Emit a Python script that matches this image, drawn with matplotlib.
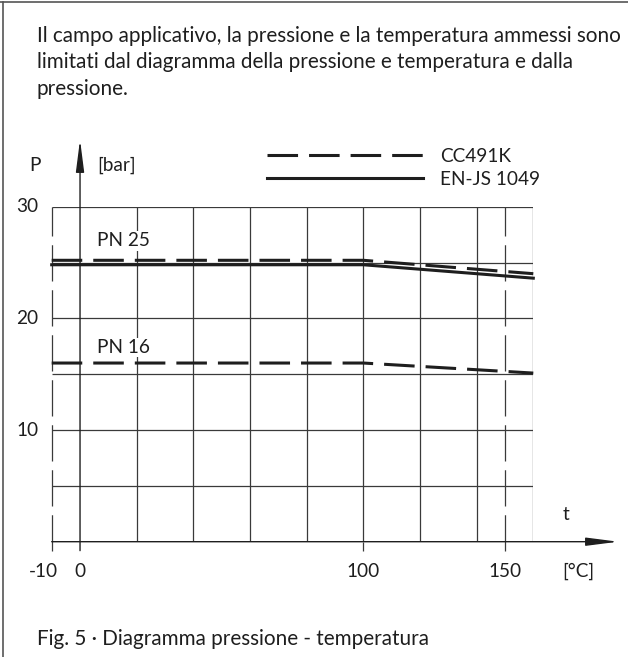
import numpy as np
import matplotlib.pyplot as plt
from matplotlib.lines import Line2D

plt.rcParams['font.family'] = ['Lato', 'DejaVu Sans']

temp = [-10, 100, 160]               # [°C]
pn25_cc491k = [25.2, 25.2, 24.0]     # bar
pn25_enjs1049 = [24.8, 24.8, 23.6]
pn16_cc491k = [16.0, 16.0, 15.1]

x_grid = [20, 40, 60, 80, 100, 120, 140, 160]
y_grid = [5, 10, 15, 20, 25, 30]
y_labels = [10, 20, 30]
x_labels = ['-10', '0', '100', '150']
x_label_vals = [-10, 0, 100, 150]

W, H = 628, 657
ink = '#1e1e1e'
gc = '#3a3a3a'
fs = 13.7       # etichette del diagramma
fs_txt = 14.9   # testo e didascalia


def fx(px):
    return px / W


def fy(py):
    return 1 - py / H


fig = plt.figure(figsize=(W / 100, H / 100), dpi=100)
fig.patch.set_facecolor('white')

# cornice
fig.add_artist(Line2D([0, 1], [fy(2), fy(2)], color='#555555', lw=1.2))
fig.add_artist(Line2D([fx(3), fx(3)], [0, fy(2)], color='#555555', lw=1.2))

# testo introduttivo
para = ["Il campo applicativo, la pressione e la temperatura ammessi sono",
        "limitati dal diagramma della pressione e temperatura e dalla",
        "pressione."]
for i, line in enumerate(para):
    fig.text(fx(37), fy(42 + i * 26.5), line, fontsize=fs_txt, color=ink,
             ha='left', va='baseline')

fig.text(fx(37), fy(645), "Fig. 5 · Diagramma pressione - temperatura",
         fontsize=fs_txt, color=ink, ha='left', va='baseline')

ax = fig.add_axes([fx(51.7), fy(541.7), fx(533.3) - fx(51.7),
                   fy(206.7) - fy(541.7)])
ax.set_xlim(-10, 160)
ax.set_ylim(0, 30)
for s in ax.spines.values():
    s.set_visible(False)
ax.set_xticks([])
ax.set_yticks([])
ax.patch.set_alpha(0)

# griglia
ax.vlines(x_grid, 0, 30, color=gc, lw=0.9)
ax.hlines(y_grid, -10, 160, color=gc, lw=0.9)
ax.plot([-10, -10], [-0.8, 30], color=gc, lw=0.9, ls=(0, (29, 7)),
        clip_on=False)
ax.plot([150, 150], [-0.8, 30], color=gc, lw=0.9, ls=(0, (29, 7)),
        clip_on=False)
ax.vlines([100], -0.8, 0, color=gc, lw=0.9, clip_on=False)

# assi con frecce
arr = dict(arrowstyle='-|>,head_length=1.95,head_width=0.25',
           mutation_scale=10, lw=1.0, color=ink, shrinkA=0, shrinkB=0)
ax.annotate('', xy=(190, 0), xytext=(-10, 0), arrowprops=arr,
            annotation_clip=False)
ax.annotate('', xy=(0, 36), xytext=(0, -0.8), arrowprops=arr,
            annotation_clip=False)

# curve
ax.plot(temp, pn25_cc491k, color=ink, lw=2.2, ls=(0, (10, 3.6)),
        label='CC491K', clip_on=False)
ax.plot(temp, pn25_enjs1049, color=ink, lw=2.2, label='EN-JS 1049',
        clip_on=False)
ax.plot(temp, pn16_cc491k, color=ink, lw=2.2, ls=(0, (10, 3.6)),
        clip_on=False)

# etichette
bb = dict(facecolor='white', edgecolor='none', pad=1)
ax.annotate('PN 25', xy=(-10, 25.2), xytext=(45, 14), textcoords='offset pixels',
            fontsize=fs, color=ink, va='baseline', bbox=bb)
ax.annotate('PN 16', xy=(-10, 16.0), xytext=(45, 10), textcoords='offset pixels',
            fontsize=fs, color=ink, va='baseline', bbox=bb)

for v in y_labels:
    ax.annotate(str(v), xy=(-10, v), xytext=(-13, 0), textcoords='offset pixels',
                fontsize=fs, color=ink, ha='right', va='center')
for v, lbl in zip(x_label_vals, x_labels):
    dx = -8 if v < 0 else 0
    ax.annotate(lbl, xy=(v, 0), xytext=(dx, -35), textcoords='offset pixels',
                fontsize=fs, color=ink, ha='center', va='baseline')

ax.annotate('P', xy=(-10, 30), xytext=(-17, 36), textcoords='offset pixels',
            fontsize=fs, color=ink, ha='center', va='baseline')
ax.annotate('[bar]', xy=(0, 30), xytext=(17, 36), textcoords='offset pixels',
            fontsize=fs, color=ink, ha='left', va='baseline')
ax.annotate('t', xy=(160, 0), xytext=(33, 22), textcoords='offset pixels',
            fontsize=fs, color=ink, ha='center', va='baseline')
ax.annotate('[°C]', xy=(160, 0), xytext=(45, -35), textcoords='offset pixels',
            fontsize=fs, color=ink, ha='center', va='baseline')

# legenda
leg = ax.legend(loc='upper left', bbox_to_anchor=(fx(267), fy(148)),
                bbox_transform=fig.transFigure, frameon=False, fontsize=fs,
                handlelength=8.2, handletextpad=0.9, labelspacing=0.3,
                borderpad=0, borderaxespad=0)
for t in leg.get_texts():
    t.set_color(ink)

fig.savefig('out.png', dpi=100, facecolor='white')
